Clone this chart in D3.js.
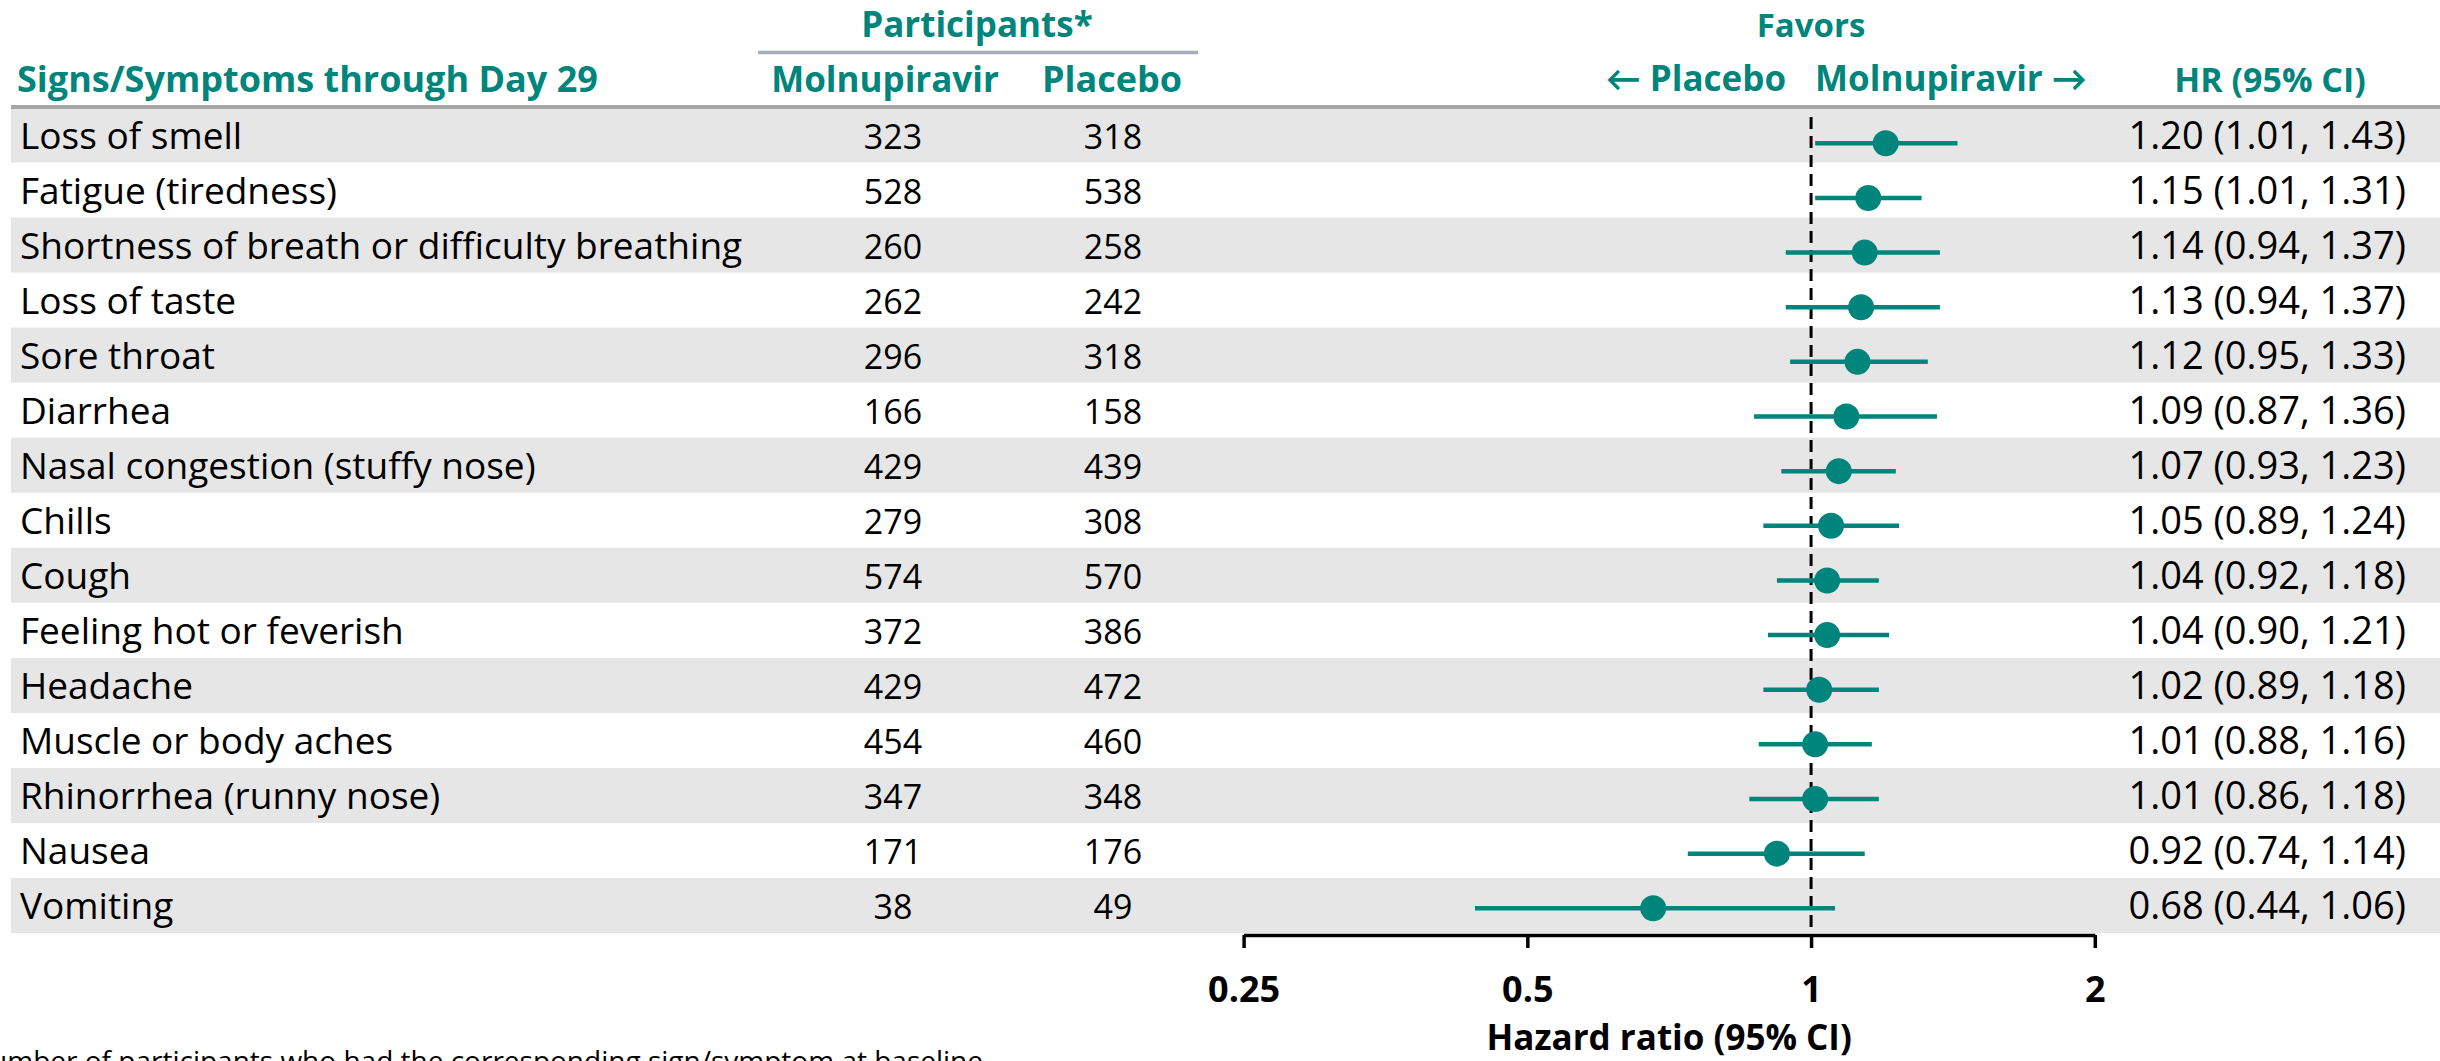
<!DOCTYPE html>
<html>
<head>
<meta charset="utf-8">
<script src="https://cdn.jsdelivr.net/npm/d3@7"></script>
<style>
  html, body { margin: 0; padding: 0; background: #ffffff; }
  svg { display: block; }
  text { font-family: "Open Sans", Lato, sans-serif; }
</style>
</head>
<body>
<svg id="chart" width="2440" height="1061"></svg>
<script>
// Signs/symptoms through Day 29
const symptoms = [
  "Loss of smell", "Fatigue (tiredness)", "Shortness of breath or difficulty breathing",
  "Loss of taste", "Sore throat", "Diarrhea", "Nasal congestion (stuffy nose)", "Chills",
  "Cough", "Feeling hot or feverish", "Headache", "Muscle or body aches",
  "Rhinorrhea (runny nose)", "Nausea", "Vomiting"
];
// Participants with the sign/symptom at baseline
const molnupiravirN = [323, 528, 260, 262, 296, 166, 429, 279, 574, 372, 429, 454, 347, 171, 38];
const placeboN      = [318, 538, 258, 242, 318, 158, 439, 308, 570, 386, 472, 460, 348, 176, 49];
// Hazard ratio with 95% confidence interval
const hr    = [1.20, 1.15, 1.14, 1.13, 1.12, 1.09, 1.07, 1.05, 1.04, 1.04, 1.02, 1.01, 1.01, 0.92, 0.68];
const ciLow = [1.01, 1.01, 0.94, 0.94, 0.95, 0.87, 0.93, 0.89, 0.92, 0.90, 0.89, 0.88, 0.86, 0.74, 0.44];
const ciHigh= [1.43, 1.31, 1.37, 1.37, 1.33, 1.36, 1.23, 1.24, 1.18, 1.21, 1.18, 1.16, 1.18, 1.14, 1.06];
// Axis ticks
const hrTicks = [0.25, 0.5, 1, 2];

const TEAL = "#00857c";
const svg = d3.select("#chart");
const W = 2440;

const rows = symptoms.map((s, i) => ({
  label: s, m: molnupiravirN[i], p: placeboN[i], hr: hr[i], lo: ciLow[i], hi: ciHigh[i]
}));

// Row bands and row marks
const band = d3.scaleBand().domain(d3.range(rows.length)).range([107.5, 933]);
const markY = d3.scalePoint().domain(d3.range(rows.length)).range([143.3, 908.3]);
const x = d3.scaleLog().base(2).domain([0.25, 2]).range([1243.6, 2094.8]);

// Shaded alternating rows
svg.append("g").selectAll("rect")
  .data(d3.range(rows.length).filter(i => i % 2 === 0))
  .join("rect")
  .attr("x", 11).attr("width", W - 11)
  .attr("y", i => band(i)).attr("height", band.bandwidth())
  .attr("fill", "#e6e6e6");

// Header rules
svg.append("line").attr("x1", 11).attr("x2", W).attr("y1", 107).attr("y2", 107)
  .attr("stroke", "#a6a6a6").attr("stroke-width", 4);
svg.append("line").attr("x1", 758).attr("x2", 1198).attr("y1", 52.5).attr("y2", 52.5)
  .attr("stroke", "#a7adba").attr("stroke-width", 3.5);

// Header text
const hdr = svg.append("g").attr("fill", TEAL).attr("font-weight", 700);
hdr.append("text").attr("x", 17).attr("y", 92).attr("font-size", 36).text("Signs/Symptoms through Day 29");
hdr.append("text").attr("x", 977).attr("y", 37).attr("font-size", 35).attr("text-anchor", "middle").text("Participants*");
hdr.append("text").attr("x", 885).attr("y", 92).attr("font-size", 35).attr("text-anchor", "middle").text("Molnupiravir");
hdr.append("text").attr("x", 1112).attr("y", 92).attr("font-size", 36).attr("text-anchor", "middle").text("Placebo");
hdr.append("text").attr("x", x(1)).attr("y", 37).attr("font-size", 33).attr("text-anchor", "middle").text("Favors");
hdr.append("text").attr("x", x(1) - 25).attr("y", 91).attr("font-size", 35).attr("text-anchor", "end").text("\u2190 Placebo");
hdr.append("text").attr("x", x(1) + 4).attr("y", 91).attr("font-size", 35).attr("text-anchor", "start").text("Molnupiravir \u2192");
hdr.append("text").attr("x", 2270).attr("y", 92).attr("font-size", 34).attr("text-anchor", "middle").text("HR (95% CI)");

// Table body
const body = svg.append("g").attr("fill", "#000");
const tr = body.selectAll("g.row").data(rows).join("g").attr("class", "row")
  .attr("transform", (d, i) => `translate(0,${band(i) + 41})`);
tr.append("text").attr("x", 20).attr("font-size", 37).text(d => d.label);
tr.append("text").attr("x", 893).attr("font-size", 34).attr("text-anchor", "middle").text(d => d.m);
tr.append("text").attr("x", 1113).attr("font-size", 34).attr("text-anchor", "middle").text(d => d.p);
const fmt = d3.format(".2f");
tr.append("text").attr("x", 2406).attr("font-size", 38).attr("text-anchor", "end")
  .text(d => `${fmt(d.hr)} (${fmt(d.lo)}, ${fmt(d.hi)})`);

// Reference line at HR = 1
svg.append("line").attr("x1", x(1)).attr("x2", x(1)).attr("y1", 117).attr("y2", 935)
  .attr("stroke", "#000").attr("stroke-width", 3).attr("stroke-dasharray", "12,7");

// Confidence intervals and point estimates
const marks = svg.append("g");
marks.selectAll("line").data(rows).join("line")
  .attr("x1", d => x(d.lo)).attr("x2", d => x(d.hi))
  .attr("y1", (d, i) => markY(i)).attr("y2", (d, i) => markY(i))
  .attr("stroke", TEAL).attr("stroke-width", 4.5);
marks.selectAll("circle").data(rows).join("circle")
  .attr("cx", d => x(d.hr)).attr("cy", (d, i) => markY(i)).attr("r", 13)
  .attr("fill", TEAL);

// Hazard ratio axis
const axis = svg.append("g").attr("transform", "translate(0,935)")
  .call(d3.axisBottom(x).tickValues(hrTicks).tickFormat(d => String(d)).tickSizeInner(13).tickSizeOuter(0));
axis.select(".domain").attr("stroke", "#000").attr("stroke-width", 3.5);
axis.selectAll(".tick line").attr("stroke", "#000").attr("stroke-width", 3.5);
axis.selectAll(".tick text").attr("y", 67).attr("dy", 0)
  .attr("font-family", "\"Open Sans\", Lato, sans-serif").attr("font-size", 36)
  .attr("font-weight", 700).attr("fill", "#000");

svg.append("text").attr("x", (x(0.25) + x(2)) / 2).attr("y", 1050).attr("text-anchor", "middle")
  .attr("font-size", 35).attr("font-weight", 700).attr("fill", "#000").text("Hazard ratio (95% CI)");

// Footnote
svg.append("text").attr("x", 983).attr("y", 1071).attr("text-anchor", "end")
  .attr("font-size", 28).attr("fill", "#000")
  .text("*Number of participants who had the corresponding sign/symptom at baseline");
</script>
</body>
</html>
